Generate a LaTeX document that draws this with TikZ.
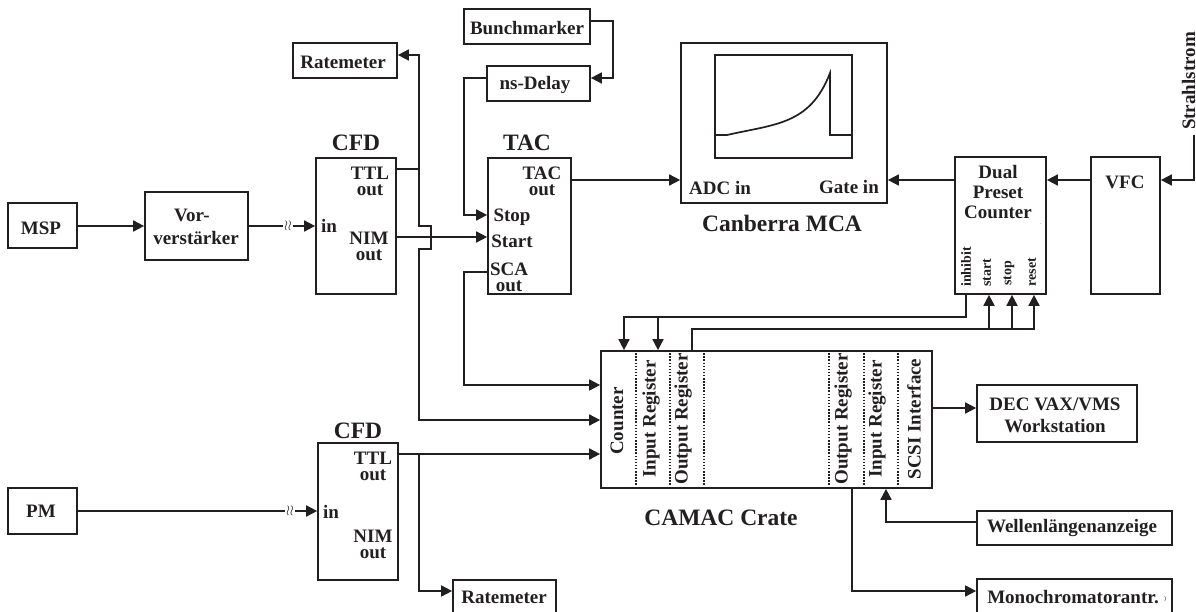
\documentclass[tikz,border=0pt]{standalone}
\usepackage{fontspec}
\setmainfont{Liberation Serif}
\usetikzlibrary{arrows.meta}
\definecolor{ink}{HTML}{231F20}
\tikzset{
  wire/.style={line width=1.7pt, draw=ink},
  arr/.style={wire, -{Stealth[length=11pt, width=11pt, inset=0pt]}},
  box/.style={wire, inner sep=0pt, align=center},
  sep/.style={wire, dash pattern=on 1.5pt off 1.6pt},
  lbl/.style={inner sep=0pt, align=center, text=ink},
  ttl/.style={lbl, font=\fontsize{23.5}{24}\selectfont\bfseries},
  tiny/.style={lbl, rotate=90, font=\fontsize{14}{14}\selectfont\bfseries},
  wavemark/.style={inner sep=1pt, text=ink, font=\fontsize{15}{15}\selectfont}
}

\begin{document}
\begin{tikzpicture}[x=1pt, y=-1pt, font=\fontsize{19}{16}\selectfont\bfseries, text=ink]
\useasboundingbox (0,0) rectangle (1196,612);

% boxes
\node[box, minimum width=69, minimum height=45] (msp) at (42.5,225.5) {};
\node[box, minimum width=69, minimum height=46] (pm) at (42.5,511) {};
\node[box, minimum width=103, minimum height=68] (vor) at (196.5,226) {};
\node[box, minimum width=80, minimum height=136] (cfdA) at (356,226) {};
\node[box, minimum width=80, minimum height=137] (cfdB) at (358,511.5) {};
\node[box, minimum width=83, minimum height=136] (tac) at (529.5,226) {};
\node[box, minimum width=104, minimum height=35] (rateA) at (345,60.5) {};
\node[box, minimum width=103, minimum height=35] (rateB) at (504.5,597.5) {};
\node[box, minimum width=126, minimum height=35] (bunch) at (527,26.5) {};
\node[box, minimum width=103, minimum height=35] (delay) at (538.5,83.5) {};
\node[box, minimum width=206, minimum height=160] (mca) at (784,123) {};
\node[box, minimum width=137, minimum height=103] (screen) at (783.5,106.5) {};
\node[box, minimum width=91, minimum height=137] (dpc) at (1000.5,225.5) {};
\node[box, minimum width=69, minimum height=137] (vfc) at (1125.5,225.5) {};
\node[box, minimum width=331, minimum height=137] (crate) at (766.5,419.5) {};
\node[box, minimum width=160, minimum height=57] (dec) at (1057,413.5) {};
\node[box, minimum width=195, minimum height=34] (wellen) at (1074.5,528) {};
\node[box, minimum width=195, minimum height=36] (mono) at (1074.5,597) {};

% crate slots
\draw[sep] (crate.north -| 636,0) -- (crate.south -| 636,0);
\draw[sep] (crate.north -| 670,0) -- (crate.south -| 670,0);
\draw[sep] (crate.north -| 704,0) -- (crate.south -| 704,0);
\draw[sep] (crate.north -| 829,0) -- (crate.south -| 829,0);
\draw[sep] (crate.north -| 864,0) -- (crate.south -| 864,0);
\draw[sep] (crate.north -| 898,0) -- (crate.south -| 898,0);

% texts
\node[ttl] (cfdAtitle) at (356,143) {CFD};
\node[ttl] (cfdBtitle) at (358,431) {CFD};
\node[ttl] (tactitle) at (527,143) {TAC};
\node[ttl] (mcatitle) at (782,223) {Canberra MCA};
\node[ttl] (cratetitle) at (721,518) {CAMAC Crate};

\node[lbl] (msptext) at (41,228) {MSP};
\node[lbl] (pmtext) at (41,511) {PM};
\node[lbl] (rateAtext) at (343,62) {Ratemeter};
\node[lbl] (rateBtext) at (504,597) {Ratemeter};
\node[lbl] (bunchtext) at (527,28) {Bunchmarker};
\node[lbl] (delaytext) at (535,85) {ns-Delay};
\node[lbl] (wellentext) at (1072,528) {Wellenlängenanzeige};
\node[lbl] (monotext) at (1073,597) {Monochromatorantr.};
\node[lbl] (vorA) at (192,215) {Vor-};
\node[lbl] (vorB) at (196,238) {verstärker};
\node[lbl] (cfdAttl) at (370,181) {TTL\\out};
\node[lbl] (cfdAnim) at (369,246) {NIM\\out};
\node[lbl] (cfdAin) at (329,226) {in};
\node[lbl] (cfdBttl) at (373,466) {TTL\\out};
\node[lbl] (cfdBnim) at (373,544) {NIM\\out};
\node[lbl] (cfdBin) at (331,512) {in};
\node[lbl] (tacout) at (542,181) {TAC\\out};
\node[lbl] (tacstop) at (512,217) {Stop};
\node[lbl] (tacstart) at (512,241) {Start};
\node[lbl] (tacsca) at (509,277) {SCA\\out};
\node[lbl] (adc) at (720,188) {ADC in};
\node[lbl] (gate) at (849,187) {Gate in};
\node[lbl, font=\fontsize{19}{20}\selectfont\bfseries] (dpctext) at (998,192) {Dual\\Preset\\Counter};
\node[lbl] (vfctext) at (1125,182) {VFC};
\node[lbl, font=\fontsize{19}{22}\selectfont\bfseries] (dectext) at (1055,415) {DEC VAX/VMS\\Workstation};
\node[lbl, rotate=90] (strahl) at (1188.5,81) {Strahlstrom};

\node[tiny] (inhibit) at (966,267) {inhibit};
\node[tiny] (start) at (987,273) {start};
\node[tiny] (stop) at (1009,273) {stop};
\node[tiny] (reset) at (1032,272) {reset};

\node[lbl, rotate=90] (counter) at (617,421) {Counter};
\node[lbl, rotate=90] (inA) at (651,419) {Input Register};
\node[lbl, rotate=90] (outA) at (683,419) {Output Register};
\node[lbl, rotate=90] (outB) at (843,419) {Output Register};
\node[lbl, rotate=90] (inB) at (877,419) {Input Register};
\node[lbl, rotate=90] (scsi) at (914,419) {SCSI Interface};

\node[lbl, font=\fontsize{5}{5}\selectfont] (specA) at (1041,224) {.};
\node[lbl, font=\fontsize{6}{6}\selectfont] (specB) at (1165,599) {)};

\node[wavemark] (waveA) at (288,226) {$\wr\wr$};
\node[wavemark] (waveB) at (290,511) {$\wr\wr$};
\coordinate (strahlEnd) at (1194,135);   % free end below the rotated label

% signal chain
\draw[arr] (msp.east |- vor.west) -- (vor.west);
\draw[wire] (vor.east) -- (waveA);
\draw[arr] (waveA) -- (cfdA.west);
\draw[wire] (pm.east) -- (waveB);
\draw[arr] (waveB) -- (cfdB.west |- waveB);

% first CFD
\draw[arr] (cfdA.east |- 0,169) -| (419,55) -- (rateA.east |- 0,55);
\draw[arr] (cfdA.east |- 0,169) -- (419,169) -- (419,226) -- (431,226) -- (431,249) -- (419,249) -- (419,420) -- (crate.west |- 0,420);
\draw[arr] (cfdA.east |- 0,237) -- (tac.west |- 0,237);

% TAC
\draw[arr] (bunch.east |- 0,21) -| (613,78) -- (delay.east |- 0,78);
\draw[arr] (delay.west |- 0,78) -| (464,215) -- (tac.west |- 0,215);
\draw[arr] (tac.west |- 0,272) -| (464,385) -- (crate.west |- 0,385);
\draw[arr] (tac.east |- 0,180) -- (mca.west |- 0,180);

% spectrum
\draw[wire] (screen.west |- 0,135) -- (727,135) .. controls (775,124) and (810,125) .. (830,73) -- (830,135) -- (screen.east |- 0,135);

% counter
\draw[arr] (dpc.west |- 0,180) -- (mca.east |- 0,180);
\draw[arr] (vfc.west |- 0,180) -- (dpc.east |- 0,180);
\draw[arr] (strahlEnd) |- (vfc.east |- 0,180);

\draw[arr] (dpc.south -| 966,0) |- (624,317) -- (crate.north -| 624,0);
\draw[arr] (658,317) -- (crate.north -| 658,0);
\draw[arr] (crate.north -| 692,0) |- (1034,329) -- (dpc.south -| 1034,0);
\draw[arr] (989,329) -- (dpc.south -| 989,0);
\draw[arr] (1012,329) -- (dpc.south -| 1012,0);

% crate connections
\draw[arr] (crate.east |- 0,408) -- (dec.west |- 0,408);
\draw[arr] (wellen.west |- 0,522) -| (crate.south -| 886,0);
\draw[arr] (crate.south -| 852,0) |- (mono.west |- 0,591);

% second CFD
\draw[arr] (cfdB.east |- 0,454) -- (crate.west |- 0,454);
\draw[arr] (419,454) |- (rateB.west |- 0,591);

\end{tikzpicture}
\end{document}
